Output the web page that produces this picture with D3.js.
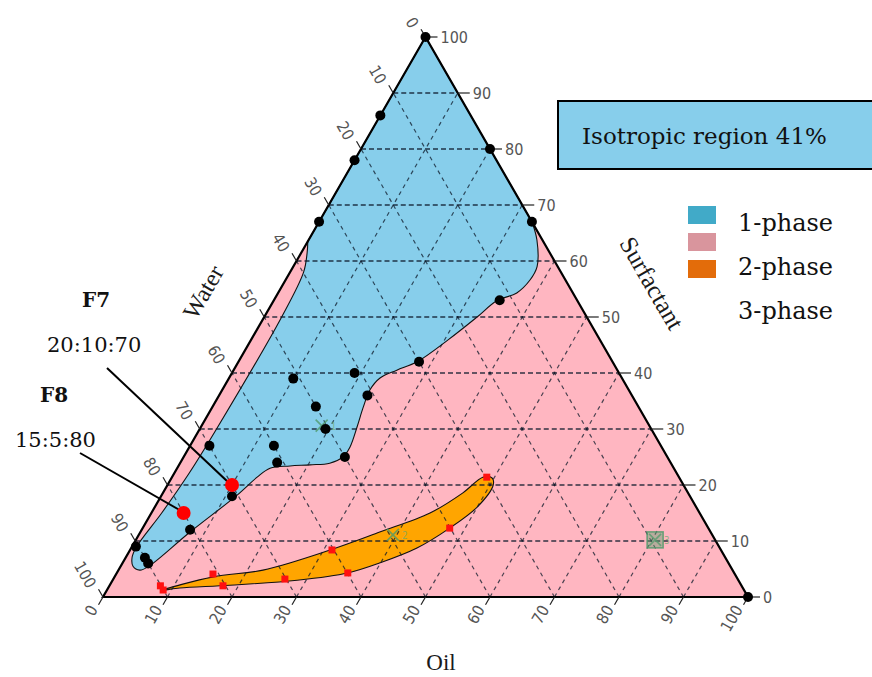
<!DOCTYPE html>
<html>
<head>
<meta charset="utf-8">
<script src="https://cdn.jsdelivr.net/npm/d3@7"></script>
<style>
  body { margin: 0; background: #fff; }
  svg { display: block; }
</style>
</head>
<body>
<div id="chart"></div>
<script>
// every composition is [surfactant, oil]; water = 100 - surfactant - oil
const tickValues = d3.range(0, 101, 10);
const gridValues = d3.range(10, 100, 10);

// tested mixtures sitting on the phase boundary
const blackPoints = [
  [100, 0], [86, 0], [78, 0], [67, 0], [80, 20], [67, 33], [53, 35],
  [42, 28], [40, 19], [39, 10], [36, 23], [34, 16], [30, 19.5], [27, 13],
  [24, 15], [25, 25], [27, 3], [18, 11], [12, 7.5], [9, 0.6], [7, 3],
  [6, 4], [0, 100]
];

// selected formulations (label shows S:O:W)
const formulations = [
  { name: "F7", ratio: "20:10:70", s: 20, o: 10 },
  { name: "F8", ratio: "15:5:80", s: 15, o: 5 }
];

// red squares along the 2-phase lobe
const redSquares = [
  [21.4, 48.8], [12.3, 47.6], [8.4, 31.3], [4.3, 35.8], [3.2, 26.6],
  [4.1, 15], [2, 17.6], [2, 7.9], [1.25, 8.7]
];

// faint reference markers
const markers = [
  { label: "1", s: 30.6, o: 18.6, shape: "x" },
  { label: "2", s: 11.1, o: 39.4, shape: "x" },
  { label: "3", s: 10.2, o: 80.5, shape: "box" }
];

// 1-phase (isotropic) boundary, from the surfactant edge round to the water edge
const onePhaseBoundary = [
  [67, 33], [63.75, 35.4], [59, 37.8], [56.6, 37.9], [54.3, 37], [52.9, 34.6],
  [50, 33], [46, 30.6], [42, 27.7], [40.5, 25.3], [39.1, 23.4], [37, 22.9],
  [33.9, 23.4], [30.4, 24.2], [26.8, 24.9], [25, 24.7], [23.9, 23.2],
  [23.6, 20.3], [23.4, 17.3], [23, 14.4], [21.4, 13.2], [18.2, 11.7],
  [11.6, 7.7], [5.4, 4.3], [4.8, 3.3], [5.5, 1.9], [7, 1.0], [8.8, 0.7],
  [15, 1.6], [22, 2.3], [30, 2.6], [50, 2.7], [58, 2.1], [61.5, 0.9], [63.5, 0]
];

// 2-phase lobe outline (closed)
const twoPhaseBoundary = [
  [1.25, 8.7], [3.6, 15.3], [4.8, 22.4], [8.4, 31], [11.6, 37.1], [15, 43.2],
  [18.6, 46.5], [21.4, 48.2], [21.25, 49.7], [20, 50.5], [16.1, 50],
  [12.3, 47.6], [8.75, 44.3], [6.1, 39.9], [4.3, 35.8], [3, 28.6],
  [2.1, 18.6], [1.6, 11.1]
];

const legendColors = ["#41aac8", "#d9959d", "#e36c0a"];
const legendLabels = ["1-phase", "2-phase", "3-phase"];
const regionNote = "Isotropic region 41%";

const width = 872, height = 677;

const svg = d3.select("#chart").append("svg")
  .attr("width", width)
  .attr("height", height)
  .attr("viewBox", [0, 0, width, height]);

const x = d3.scaleLinear().domain([0, 100]).range([103, 748]);
const y = d3.scaleLinear().domain([0, 100]).range([597, 37]);
const pt = (s, o) => [x(o) + (x(s) - x(0)) / 2, y(s)];

const vTop = pt(100, 0), vLeft = pt(0, 0), vRight = pt(0, 100);
const framePath = "M" + vTop + "L" + vLeft + "L" + vRight + "Z";

// background (2-phase region)
svg.append("path")
  .attr("d", framePath)
  .attr("fill", "#ffb6c1");

// 1-phase region
const smooth = d3.line().curve(d3.curveCatmullRom.alpha(0.5));
svg.append("path")
  .attr("d", smooth(onePhaseBoundary.map(d => pt(d[0], d[1]))) + "L" + vTop + "Z")
  .attr("fill", "#87ceeb")
  .attr("stroke", "#111")
  .attr("stroke-width", 1.1);

// 3-phase lobe
svg.append("path")
  .attr("d", d3.line().curve(d3.curveCatmullRomClosed.alpha(0.5))(twoPhaseBoundary.map(d => pt(d[0], d[1]))))
  .attr("fill", "#ffa500")
  .attr("stroke", "#111")
  .attr("stroke-width", 1.1);

// grid
const gGrid = svg.append("g").attr("fill", "none").attr("stroke", "#0d1a2a");
gGrid.selectAll(".hs").data(gridValues).join("line")
  .attr("x1", d => pt(d, 0)[0]).attr("y1", d => pt(d, 0)[1])
  .attr("x2", d => pt(d, 100 - d)[0]).attr("y2", d => pt(d, 100 - d)[1])
  .attr("stroke-width", 1.5).attr("stroke-opacity", 0.85)
  .attr("stroke-dasharray", "5,3");
gGrid.selectAll(".ho").data(gridValues).join("line")
  .attr("x1", d => pt(0, d)[0]).attr("y1", d => pt(0, d)[1])
  .attr("x2", d => pt(100 - d, d)[0]).attr("y2", d => pt(100 - d, d)[1])
  .attr("stroke-width", 1.2).attr("stroke-opacity", 0.75)
  .attr("stroke-dasharray", "4,4");
gGrid.selectAll(".hw").data(gridValues).join("line")
  .attr("x1", d => pt(0, 100 - d)[0]).attr("y1", d => pt(0, 100 - d)[1])
  .attr("x2", d => pt(100 - d, 0)[0]).attr("y2", d => pt(100 - d, 0)[1])
  .attr("stroke-width", 1.2).attr("stroke-opacity", 0.75)
  .attr("stroke-dasharray", "4,4");

// triangle frame
svg.append("path")
  .attr("d", framePath)
  .attr("fill", "none")
  .attr("stroke", "#000")
  .attr("stroke-width", 2.2)
  .attr("stroke-linejoin", "miter");

// ticks and tick labels
const tickFont = "'DejaVu Sans Condensed', 'Liberation Sans Narrow', sans-serif";
const gTicks = svg.append("g").attr("stroke", "#222").attr("stroke-width", 1.2);
const gLab = svg.append("g")
  .attr("font-family", tickFont)
  .attr("font-stretch", "condensed")
  .attr("font-size", 16)
  .attr("fill", "#555");

const upLeft = [-0.5, -0.866], downLeft = [-0.5, 0.866];

tickValues.forEach(v => {
  // surfactant, right edge
  let p = pt(v, 100 - v);
  gTicks.append("line").attr("x1", p[0]).attr("y1", p[1]).attr("x2", p[0] + 12).attr("y2", p[1]);
  gLab.append("text").attr("x", p[0] + 15).attr("y", p[1] + 6).text(v);

  // oil, bottom edge
  p = pt(0, v);
  gTicks.append("line").attr("x1", p[0]).attr("y1", p[1])
    .attr("x2", p[0] + downLeft[0] * 9).attr("y2", p[1] + downLeft[1] * 9);
  const bx = p[0] + downLeft[0] * 11 - 4, by = p[1] + downLeft[1] * 11;
  gLab.append("text").attr("text-anchor", "end")
    .attr("transform", `translate(${bx},${by}) rotate(-60)`)
    .attr("dy", "0.35em")
    .text(v);

  // water, left edge
  p = pt(100 - v, 0);
  gTicks.append("line").attr("x1", p[0]).attr("y1", p[1])
    .attr("x2", p[0] + upLeft[0] * 9).attr("y2", p[1] + upLeft[1] * 9);
  const lx = p[0] + upLeft[0] * 12 - 5, ly = p[1] + upLeft[1] * 12;
  gLab.append("text").attr("text-anchor", "end")
    .attr("transform", `translate(${lx},${ly}) rotate(60)`)
    .attr("dy", "0.35em")
    .text(v);
});

// axis titles
const titleFont = "'Liberation Serif', 'Times New Roman', serif";
svg.append("text").attr("font-family", titleFont).attr("font-size", 24).attr("fill", "#1a1a1a")
  .attr("text-anchor", "middle")
  .attr("transform", "translate(203,292) rotate(-60)").attr("dy", "0.35em").text("Water");
svg.append("text").attr("font-family", titleFont).attr("font-size", 25).attr("fill", "#1a1a1a")
  .attr("text-anchor", "middle")
  .attr("transform", "translate(652,283) rotate(60)").attr("dy", "0.35em").text("Surfactant");
svg.append("text").attr("font-family", titleFont).attr("font-size", 23).attr("fill", "#1a1a1a")
  .attr("text-anchor", "middle")
  .attr("x", 441).attr("y", 670).text("Oil");

// faint reference markers
const gMark = svg.append("g").attr("stroke", "#4f9a6a").attr("fill", "none").attr("stroke-opacity", 0.8);
markers.forEach(m => {
  const p = pt(m.s, m.o);
  gMark.append("path").attr("d", `M${p[0] - 6},${p[1] - 6}L${p[0] + 6},${p[1] + 6}M${p[0] - 6},${p[1] + 6}L${p[0] + 6},${p[1] - 6}`)
    .attr("stroke-width", 1.6);
  if (m.shape === "box") {
    gMark.append("rect").attr("x", p[0] - 8).attr("y", p[1] - 8).attr("width", 16).attr("height", 16)
      .attr("fill", "#5fa070").attr("fill-opacity", 0.45).attr("stroke-width", 1.6);
  }
  svg.append("text").attr("x", p[0] + 9).attr("y", p[1] + 4)
    .attr("font-family", tickFont).attr("font-size", 10).attr("fill", "#6aa86e")
    .attr("fill-opacity", 0.7).text(m.label);
});

// black points
svg.append("g").selectAll("circle").data(blackPoints).join("circle")
  .attr("cx", d => pt(d[0], d[1])[0])
  .attr("cy", d => pt(d[0], d[1])[1])
  .attr("r", 5)
  .attr("fill", "#000");

// red squares
svg.append("g").selectAll("rect").data(redSquares).join("rect")
  .attr("x", d => pt(d[0], d[1])[0] - 3.5)
  .attr("y", d => pt(d[0], d[1])[1] - 3.5)
  .attr("width", 7).attr("height", 7)
  .attr("fill", "#ff1010");

// formulation annotations
const annoFont = "'DejaVu Serif', serif";
const annoPos = [
  { nx: 82, ny: 307, rx: 47, ry: 352, lx: 107, ly: 368 },
  { nx: 40, ny: 402, rx: 15, ry: 447, lx: 80, ly: 453 }
];
formulations.forEach((f, i) => {
  const p = pt(f.s, f.o), a = annoPos[i];
  svg.append("line").attr("x1", a.lx).attr("y1", a.ly).attr("x2", p[0] - 4).attr("y2", p[1] - 3)
    .attr("stroke", "#000").attr("stroke-width", 2);
  svg.append("circle").attr("cx", p[0]).attr("cy", p[1]).attr("r", 7).attr("fill", "#ff0000");
  svg.append("text").attr("x", a.nx).attr("y", a.ny).attr("font-family", annoFont)
    .attr("font-weight", "bold").attr("font-size", 20).attr("fill", "#111").text(f.name);
  svg.append("text").attr("x", a.rx).attr("y", a.ry).attr("font-family", annoFont)
    .attr("font-size", 21).attr("fill", "#111").text(f.ratio);
});

// note box
svg.append("rect").attr("x", 558).attr("y", 101).attr("width", 330).attr("height", 68)
  .attr("fill", "#87ceeb").attr("stroke", "#000").attr("stroke-width", 2);
svg.append("text").attr("x", 582).attr("y", 144).attr("font-family", annoFont)
  .attr("font-size", 23).attr("fill", "#111").text(regionNote);

// legend
const gLeg = svg.append("g");
gLeg.selectAll("rect").data(legendColors).join("rect")
  .attr("x", 688).attr("y", (d, i) => 206 + i * 27)
  .attr("width", 28).attr("height", 18)
  .attr("fill", d => d);
gLeg.selectAll("text").data(legendLabels).join("text")
  .attr("x", 738).attr("y", (d, i) => 231 + i * 44)
  .attr("font-family", annoFont).attr("font-size", 24).attr("fill", "#111")
  .text(d => d);
</script>
</body>
</html>
